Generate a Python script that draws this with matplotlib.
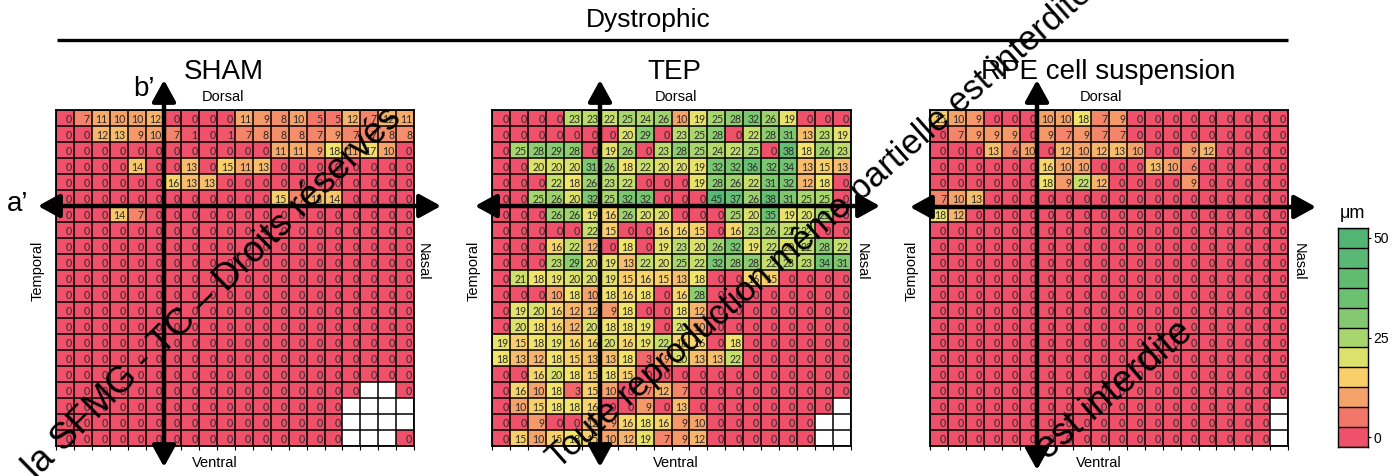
import numpy as np
import matplotlib
matplotlib.use("Agg")
import matplotlib.pyplot as plt
from matplotlib.colors import LinearSegmentedColormap, Normalize
from matplotlib.patches import FancyArrowPatch

N = np.nan

# ---------------- data (rows: dorsal -> ventral, cols: temporal -> nasal) -------------
sham = [
    [0, 7, 11, 10, 10, 12, 0, 0, 0, 0, 11, 9, 8, 10, 5, 5, 12, 7, 12, 11],
    [0, 0, 12, 13, 9, 10, 7, 1, 0, 1, 7, 8, 8, 8, 7, 9, 7, 7, 8, 8],
    [0, 0, 0, 0, 0, 0, 0, 0, 0, 0, 0, 0, 11, 11, 9, 18, 11, 17, 10, 0],
    [0, 0, 0, 0, 14, 0, 0, 13, 0, 15, 11, 13, 0, 0, 0, 0, 0, 0, 0, 0],
    [0, 0, 0, 0, 0, 0, 16, 13, 13, 0, 0, 0, 0, 0, 0, 0, 0, 0, 0, 0],
    [0, 0, 0, 0, 0, 0, 0, 0, 0, 0, 0, 0, 15, 7, 13, 14, 0, 0, 0, 0],
    [0, 0, 0, 14, 7, 0, 0, 0, 0, 0, 0, 0, 0, 0, 0, 0, 0, 0, 0, 0],
    [0] * 20, [0] * 20, [0] * 20, [0] * 20, [0] * 20, [0] * 20, [0] * 20,
    [0] * 20, [0] * 20, [0] * 20,
    [0, 0, 0, 0, 0, 0, 0, 0, 0, 0, 0, 0, 0, 0, 0, 0, 0, N, N, 0],
    [0, 0, 0, 0, 0, 0, 0, 0, 0, 0, 0, 0, 0, 0, 0, 0, N, N, N, N],
    [0, 0, 0, 0, 0, 0, 0, 0, 0, 0, 0, 0, 0, 0, 0, 0, N, N, N, N],
    [0, 0, 0, 0, 0, 0, 0, 0, 0, 0, 0, 0, 0, 0, 0, 0, N, N, N, 0],
]

tep = [
    [0, 0, 0, 0, 23, 23, 22, 25, 24, 26, 10, 19, 25, 28, 32, 26, 19, 0, 0, 0],
    [0, 0, 0, 0, 0, 0, 0, 20, 29, 0, 23, 25, 28, 0, 22, 28, 31, 13, 23, 19],
    [0, 25, 28, 29, 28, 0, 19, 26, 0, 23, 28, 25, 24, 22, 25, 0, 38, 18, 26, 23],
    [0, 0, 20, 20, 20, 31, 26, 18, 22, 20, 20, 19, 32, 32, 36, 32, 34, 13, 15, 13],
    [0, 0, 0, 22, 18, 26, 23, 22, 0, 0, 0, 19, 28, 26, 22, 31, 32, 12, 18, 0],
    [0, 0, 25, 26, 20, 32, 25, 32, 32, 0, 0, 0, 45, 37, 26, 38, 31, 25, 25, 0],
    [0, 0, 0, 26, 26, 19, 16, 26, 20, 20, 0, 0, 0, 25, 20, 35, 19, 20, 25, 0],
    [0, 0, 0, 0, 0, 22, 15, 0, 0, 16, 16, 15, 0, 16, 23, 26, 22, 22, 0, 0],
    [0, 0, 0, 16, 22, 12, 0, 18, 0, 19, 23, 20, 26, 32, 19, 22, 20, 22, 28, 22],
    [0, 0, 0, 23, 29, 20, 19, 13, 22, 20, 25, 22, 32, 28, 28, 22, 23, 23, 34, 31],
    [0, 21, 18, 19, 20, 20, 19, 15, 16, 15, 13, 18, 0, 0, 16, 15, 0, 0, 0, 0],
    [0, 0, 0, 10, 18, 10, 18, 16, 18, 0, 16, 28, 0, 0, 0, 0, 0, 0, 0, 0],
    [0, 19, 20, 16, 12, 12, 9, 18, 0, 0, 18, 12, 0, 0, 0, 0, 0, 0, 0, 0],
    [0, 20, 18, 16, 12, 20, 18, 18, 19, 0, 20, 10, 0, 0, 0, 0, 0, 0, 0, 0],
    [19, 15, 18, 19, 16, 16, 20, 16, 19, 22, 16, 16, 0, 18, 0, 0, 0, 0, 0, 0],
    [18, 13, 12, 18, 15, 13, 13, 18, 3, 9, 20, 13, 13, 22, 0, 0, 0, 0, 0, 0],
    [0, 0, 16, 20, 18, 15, 18, 15, 0, 0, 0, 0, 0, 0, 0, 0, 0, 0, 0, 0],
    [0, 16, 10, 18, 3, 15, 10, 0, 7, 12, 7, 0, 0, 0, 0, 0, 0, 0, 0, 0],
    [0, 10, 15, 18, 18, 16, 0, 0, 9, 0, 13, 0, 0, 0, 0, 0, 0, 0, 0, N],
    [0, 0, 9, 0, 0, 12, 9, 16, 18, 16, 9, 10, 0, 0, 0, 0, 0, 0, N, N],
    [0, 15, 10, 15, 18, 15, 10, 12, 19, 7, 9, 12, 0, 0, 0, 0, 0, 0, N, N],
]

rpe = [
    [15, 10, 9, 0, 0, 0, 10, 10, 18, 7, 9, 0, 0, 0, 0, 0, 0, 0, 0, 0],
    [0, 7, 9, 9, 9, 0, 9, 7, 9, 7, 7, 0, 0, 0, 0, 0, 0, 0, 0, 0],
    [0, 0, 0, 13, 6, 10, 0, 12, 10, 12, 13, 10, 0, 0, 9, 12, 0, 0, 0, 0],
    [0, 0, 0, 0, 0, 0, 16, 10, 10, 0, 0, 0, 13, 10, 6, 0, 0, 0, 0, 0],
    [0, 0, 0, 0, 0, 0, 18, 9, 22, 12, 0, 0, 0, 0, 9, 0, 0, 0, 0, 0],
    [7, 10, 13, 0, 0, 0, 0, 0, 0, 0, 0, 0, 0, 0, 0, 0, 0, 0, 0, 0],
    [18, 12, 0, 0, 0, 0, 0, 0, 0, 0, 0, 0, 0, 0, 0, 0, 0, 0, 0, 0],
    [0] * 20, [0] * 20, [0] * 20, [0] * 20, [0] * 20, [0] * 20, [0] * 20,
    [0] * 20, [0] * 20, [0] * 20, [0] * 20,
    [0] * 19 + [N], [0] * 19 + [N], [0] * 19 + [N],
]

panel_titles = ["SHAM", "TEP", "RPE cell suspension"]
group_title = "Dystrophic"
cbar_levels = [0, 5, 10, 15, 20, 25, 30, 35, 40, 45, 50]
cbar_ticks = [0, 25, 50]
cbar_unit = "μm"

# ---------------- styling ----------------
W, H = 1394, 476
fig = plt.figure(figsize=(W / 100, H / 100), dpi=100)
fig.patch.set_facecolor("white")

cmap = LinearSegmentedColormap.from_list(
    "excel3",
    [(0.0, "#EF506A"), (0.14, "#F4876B"), (0.30, "#FAD06D"),
     (0.36, "#F3E46C"), (0.44, "#C5DE6D"), (0.56, "#8ECD70"),
     (0.72, "#68C072"), (1.0, "#52B574")])
cmap.set_bad("white")
norm = Normalize(0, 50)

TXT = "Liberation Sans"
CELL_FONT = "Lato"


def px_axes(x0, y0, x1, y1):
    return fig.add_axes([x0 / W, 1 - y1 / H, (x1 - x0) / W, (y1 - y0) / H])


boxes = [(56, 110, 414, 446), (492.5, 110, 850.5, 446), (930, 110, 1288, 446)]
datasets = [sham, tep, rpe]

for (x0, y0, x1, y1), data in zip(boxes, datasets):
    arr = np.array(data, dtype=float)
    ax = px_axes(x0, y0, x1, y1)
    ax.imshow(np.ma.masked_invalid(arr), cmap=cmap, norm=norm, aspect="auto",
              interpolation="nearest")
    nr, nc = arr.shape
    ax.set_xticks(np.arange(-0.5, nc, 1), minor=True)
    ax.set_yticks(np.arange(-0.5, nr, 1), minor=True)
    ax.set_xticks([])
    ax.set_yticks([])
    ax.grid(which="minor", color="black", linewidth=1.1)
    ax.tick_params(which="minor", bottom=True, left=False, length=3,
                   width=0.8, labelbottom=False)
    for s in ax.spines.values():
        s.set_linewidth(1.3)
    for i in range(nr):
        for j in range(nc):
            v = arr[i, j]
            if np.isnan(v):
                continue
            ax.text(j + 0.40, i + 0.08, f"{int(v)}", ha="right", va="center",
                    fontsize=7.6, family=CELL_FONT, color="#2b2b2b")

# colorbar
cax = px_axes(1338, 228, 1368, 447)
lev = np.array(cbar_levels, dtype=float)[::-1].reshape(-1, 1)
cax.imshow(lev, cmap=cmap, norm=norm, aspect="auto", interpolation="nearest",
           extent=[0, 1, -2.5, 52.5])
cax.set_xlim(0, 1)
cax.set_ylim(-2.5, 52.5)
cax.set_xticks([])
cax.set_yticks(np.arange(-2.5, 53, 5), minor=True)
cax.grid(which="minor", axis="y", color="black", linewidth=1.0)
cax.yaxis.tick_right()
cax.set_yticks(cbar_ticks)
cax.set_yticklabels([str(t) for t in cbar_ticks], fontsize=10, family=TXT)
cax.tick_params(axis="y", which="major", length=2, pad=2)
cax.tick_params(axis="y", which="minor", length=0)
for s in cax.spines.values():
    s.set_linewidth(1.0)

# overlay for arrows and free text
ov = fig.add_axes([0, 0, 1, 1], zorder=10)
ov.set_xlim(0, W)
ov.set_ylim(H, 0)
ov.axis("off")
ov.patch.set_alpha(0)

ov.text(648, 20, group_title, ha="center", va="center", fontsize=19, family=TXT)
ov.plot([57, 1288], [40, 40], color="black", lw=2.4, solid_capstyle="butt")

title_x = [224, 674, 1108]
for t, tx in zip(panel_titles, title_x):
    ov.text(tx, 72, t, ha="center", va="center", fontsize=20, family=TXT)

cbar_x = 1352
ov.text(cbar_x, 213, cbar_unit, ha="center", va="center", fontsize=13, family=TXT)

dorsal_x = [223, 676, 1101]
ventral_x = [215, 676, 1099]
temporal_x = [38, 474, 912]
nasal_x = [423, 862, 1299]
for dx, vx, tx, nx in zip(dorsal_x, ventral_x, temporal_x, nasal_x):
    ov.text(dx, 97, "Dorsal", ha="center", va="center", fontsize=10.5, family=TXT)
    ov.text(vx, 463, "Ventral", ha="center", va="center", fontsize=10.5, family=TXT)
    ov.text(tx, 271, "Temporal", ha="center", va="center", fontsize=10.5,
            family=TXT, rotation=90)
    ov.text(nx, 262, "Nasal", ha="center", va="center", fontsize=10.5,
            family=TXT, rotation=-90)

arrows_h = [((38, 206), (441, 206)), ((475, 206), (880, 206)), ((910, 207), (1316, 207))]
arrows_v = [((164, 80), (164, 467)), ((600, 80), (600, 467)), ((1037, 80), (1037, 470))]
for a, b in arrows_h + arrows_v:
    ov.add_patch(FancyArrowPatch(a, b, arrowstyle="<|-|>,head_length=1.0,head_width=0.55",
                                 mutation_scale=13, lw=3.2, color="black",
                                 shrinkA=0, shrinkB=0))

ov.text(18, 204, "a’", ha="center", va="center", fontsize=20, family=TXT)
ov.text(144, 89, "b’", ha="center", va="center", fontsize=20, family=TXT)

# watermark text
wm_kw = dict(family=TXT, color="black", rotation_mode="anchor", va="baseline")
ov.text(403, 120, "la SFMG - TC – Droits réservés", fontsize=26.5, rotation=44.5,
        ha="right", **wm_kw)
ov.text(558, 470, "Toute reproduction même partielle est interdite", fontsize=25,
        rotation=41.5, ha="left", **wm_kw)
ov.text(1195, 335, "est interdite", fontsize=27, rotation=40.5, ha="right", **wm_kw)

fig.savefig("out.png", dpi=100)
